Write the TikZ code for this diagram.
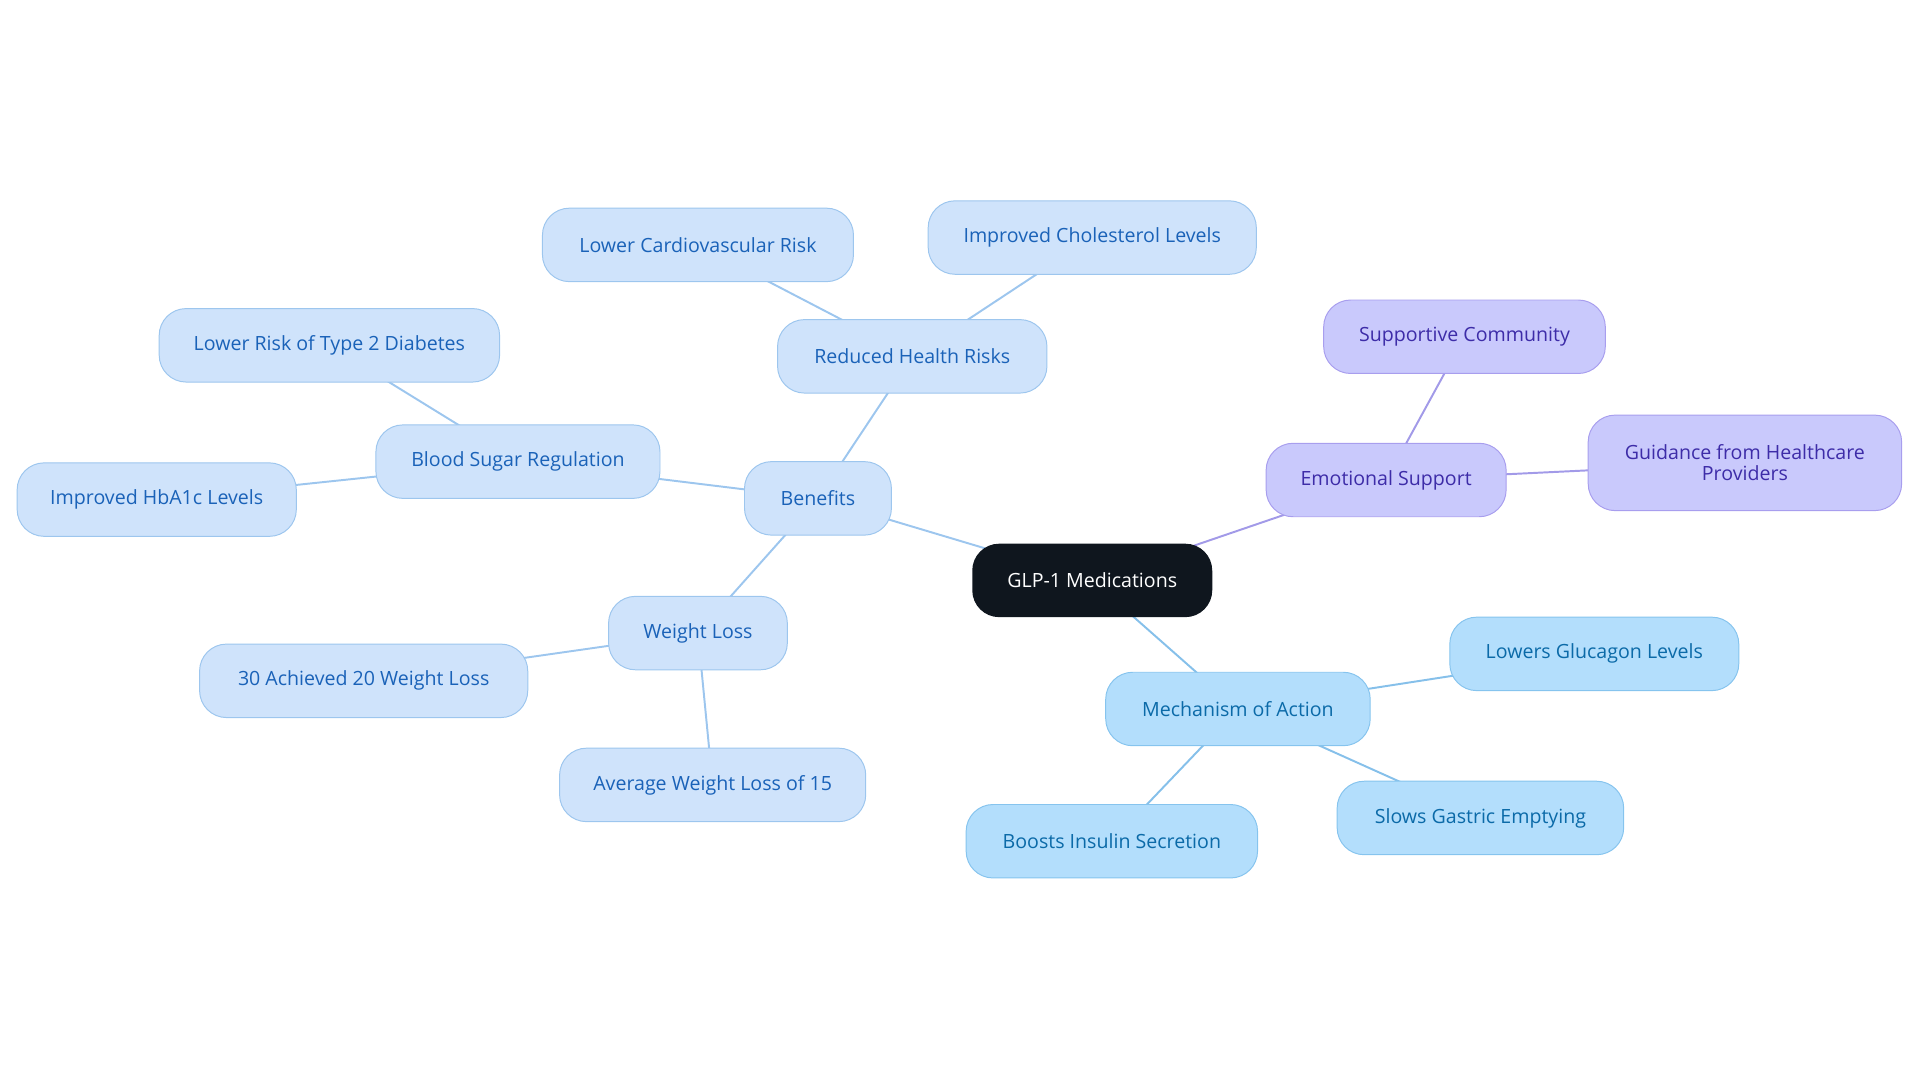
\documentclass[tikz,border=0pt]{standalone}
\usepackage{fontspec}
\setmainfont{Open Sans}
\usetikzlibrary{backgrounds}
\definecolor{blue1}{HTML}{CFE3FB}\definecolor{blue2}{HTML}{9DC6EE}\definecolor{blue3}{HTML}{1A62B8}
\definecolor{mech1}{HTML}{B3DEFC}\definecolor{mech2}{HTML}{86C4EE}\definecolor{mech3}{HTML}{0B6AA8}\definecolor{mech4}{HTML}{86C0EA}
\definecolor{pur1}{HTML}{C9C9FC}\definecolor{pur2}{HTML}{A89EEE}\definecolor{pur3}{HTML}{3D2CA8}\definecolor{pur4}{HTML}{A29AE8}
\definecolor{rootc}{HTML}{0F161E}
\begin{document}
\begin{tikzpicture}[x=1pt,y=-1pt,
 base/.style={rounded corners=22pt,minimum height=60pt,line width=0.8pt,font=\fontsize{16}{17}\selectfont,align=center,inner sep=0pt},
 blu/.style={base,fill=blue1,draw=blue2,text=blue3},
 mech/.style={base,fill=mech1,draw=mech2,text=mech3},
 pur/.style={base,fill=pur1,draw=pur2,text=pur3},
 eb/.style={draw=blue2,line width=1.6pt},
 em/.style={draw=mech4,line width=1.6pt},
 ep/.style={draw=pur4,line width=1.6pt}]
\useasboundingbox (0,0) rectangle (1568,884);
\node[base,fill=rootc,text=white,minimum width=196pt] (root) at (892,474) {GLP-1 Medications};
\node[blu,minimum width=120pt] (ben) at (668,407) {Benefits};
\node[blu,minimum width=220pt] (rhr) at (745,291) {Reduced Health Risks};
\node[blu,minimum width=254pt] (lcr) at (570,200) {Lower Cardiovascular Risk};
\node[blu,minimum width=268pt] (icl) at (892,194) {Improved Cholesterol Levels};
\node[blu,minimum width=232pt] (bsr) at (423,377) {Blood Sugar Regulation};
\node[blu,minimum width=278pt] (lrd) at (269,282) {Lower Risk of Type 2 Diabetes};
\node[blu,minimum width=228pt] (iha) at (128,408) {Improved HbA1c Levels};
\node[blu,minimum width=146pt] (wl) at (570,517) {Weight Loss};
\node[blu,minimum width=268pt] (a30) at (297,556) {30 Achieved 20 Weight Loss};
\node[blu,minimum width=250pt] (awl) at (582,641) {Average Weight Loss of 15};
\node[pur,minimum width=196pt] (es) at (1132,392) {Emotional Support};
\node[pur,minimum width=230pt] (sc) at (1196,275) {Supportive Community};
\node[pur,minimum width=256pt,minimum height=78pt] (gh) at (1425,378) {Guidance from Healthcare\\Providers};
\node[mech,minimum width=216pt] (moa) at (1011,579) {Mechanism of Action};
\node[mech,minimum width=236pt] (lgl) at (1302,534) {Lowers Glucagon Levels};
\node[mech,minimum width=234pt] (sge) at (1209,668) {Slows Gastric Emptying};
\node[mech,minimum width=238pt] (bis) at (908,687) {Boosts Insulin Secretion};
\begin{scope}[on background layer]
\draw[eb] (root.center) -- (ben.center);
\draw[eb] (ben.center) -- (rhr.center);
\draw[eb] (rhr.center) -- (lcr.center);
\draw[eb] (rhr.center) -- (icl.center);
\draw[eb] (ben.center) -- (bsr.center);
\draw[eb] (bsr.center) -- (lrd.center);
\draw[eb] (bsr.center) -- (iha.center);
\draw[eb] (ben.center) -- (wl.center);
\draw[eb] (wl.center) -- (a30.center);
\draw[eb] (wl.center) -- (awl.center);
\draw[ep] (root.center) -- (es.center);
\draw[ep] (es.center) -- (sc.center);
\draw[ep] (es.center) -- (gh.center);
\draw[em] (root.center) -- (moa.center);
\draw[em] (moa.center) -- (lgl.center);
\draw[em] (moa.center) -- (sge.center);
\draw[em] (moa.center) -- (bis.center);
\end{scope}
\end{tikzpicture}
\end{document}
